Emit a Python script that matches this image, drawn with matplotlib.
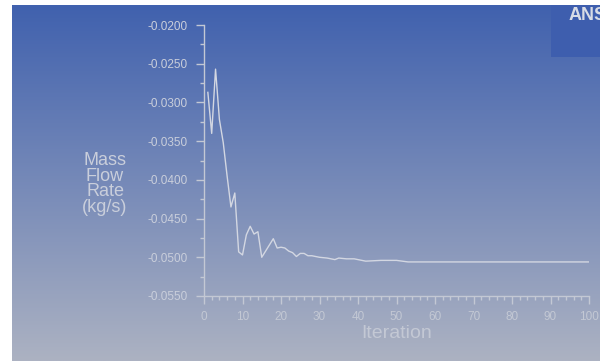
import numpy as np
import matplotlib.pyplot as plt
from matplotlib.ticker import MultipleLocator

# mass flow rate monitor
iterations = [1, 2, 3, 4, 5, 6, 7, 8, 9, 10, 11, 12, 13, 14, 15, 16, 17, 18, 19, 20,
              21, 22, 23, 24, 25, 26, 27, 28, 29, 30, 32, 34, 35, 37, 39, 42, 46, 50,
              53, 56, 100]
mass_flow = [-0.0287, -0.0340, -0.0257, -0.0322, -0.0352, -0.0395, -0.0435, -0.0417,
             -0.0493, -0.0497, -0.0471, -0.0460, -0.0470, -0.0467, -0.0500, -0.0492,
             -0.0484, -0.0476, -0.0488, -0.0487, -0.0488, -0.0492, -0.0494, -0.0499,
             -0.0495, -0.0495, -0.0498, -0.0498, -0.0499, -0.0500, -0.0501, -0.0503,
             -0.0501, -0.0502, -0.0502, -0.0505, -0.0504, -0.0504, -0.0506, -0.0506,
             -0.0506]
yticks = [-0.0200, -0.0250, -0.0300, -0.0350, -0.0400, -0.0450, -0.0500, -0.0550]
xticks = [0, 10, 20, 30, 40, 50, 60, 70, 80, 90, 100]

plt.rcParams['font.family'] = ['Liberation Sans', 'DejaVu Sans']
txt = '#c9cedb'
faint = '#c3c8d4'

fig = plt.figure(figsize=(6, 3.62), dpi=100)
fig.patch.set_facecolor('white')

# gradient background panel
bg = fig.add_axes([12/600, 1/362, 588/600, 356/362], zorder=-2)
top = np.array([64, 97, 174]) / 255
bot = np.array([172, 178, 194]) / 255
t = np.linspace(0, 1, 256)[:, None]
grad = top * (1 - t) + bot * t
bg.imshow(grad[:, None, :].repeat(2, axis=1), aspect='auto', extent=[0, 1, 0, 1])
bg.axis('off')

# ANSYS logo box (text is cut off at the right edge, as in the original)
logo = fig.add_axes([551/600, 1 - 57/362, 49/600, 52/362], zorder=-1)
logo.set_facecolor('#3e5eae')
logo.set_xticks([])
logo.set_yticks([])
for s in logo.spines.values():
    s.set_visible(False)
logo.text(0.36, 0.80, 'ANSYS', color='#d8dce6', fontsize=13, fontweight='bold',
          transform=logo.transAxes, va='center', ha='left', clip_on=True)

ax = fig.add_axes([204/600, 1 - 296/362, 385/600, 271/362])
ax.patch.set_alpha(0)
ax.plot(iterations, mass_flow, color='#d3d7e2', lw=1)
ax.set_xlim(0, 100)
ax.set_ylim(-0.0550, -0.0200)
ax.set_xticks(xticks)
ax.set_yticks(yticks)
ax.set_yticklabels(['%.4f' % v for v in yticks])
ax.xaxis.set_minor_locator(MultipleLocator(2))
ax.yaxis.set_minor_locator(MultipleLocator(0.0025))
for s in ['top', 'right']:
    ax.spines[s].set_visible(False)
for s in ['left', 'bottom']:
    ax.spines[s].set_color(faint)
    ax.spines[s].set_linewidth(1)
ax.tick_params(axis='both', which='major', colors=faint, labelcolor=txt, length=6,
               width=1, labelsize=8.5)
ax.tick_params(axis='both', which='minor', colors=faint, length=3, width=1)
ax.tick_params(axis='x', pad=5)
ax.tick_params(axis='y', pad=6)
for lab in ax.get_xticklabels():
    lab.set_color('#c3c8d4')

fig.text(105/600, 1 - 184/362, 'Mass\nFlow\nRate\n(kg/s)', color=txt, fontsize=13,
         ha='center', va='center', linespacing=0.88)
fig.text(397/600, 1 - 333/362, 'Iteration', color='#c3c8d4', fontsize=14,
         ha='center', va='center')

plt.savefig('out.png', dpi=100)
